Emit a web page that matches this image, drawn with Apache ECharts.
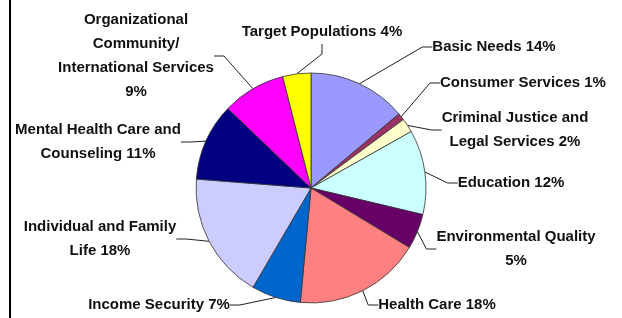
<!DOCTYPE html>
<html>
<head>
<meta charset="utf-8">
<script src="https://cdn.jsdelivr.net/npm/echarts@6/dist/echarts.min.js"></script>
<style>
html,body{margin:0;padding:0;background:#fff;}
#main{width:622px;height:318px;}
</style>
</head>
<body>
<div id="main"></div>
<script>
var categories = [
  'Basic Needs',
  'Consumer Services',
  'Criminal Justice and\nLegal Services',
  'Education',
  'Environmental Quality',
  'Health Care',
  'Income Security',
  'Individual and Family\nLife',
  'Mental Health Care and\nCounseling',
  'Organizational\nCommunity/\nInternational Services',
  'Target Populations'
];
var values = [14, 1, 2, 12, 5, 18, 7, 18, 11, 9, 4];
var valueOnNewLine = [false, false, false, false, true, false, false, false, false, true, false];
var colors = ['#9999FF', '#993366', '#FFFFCC', '#CCFFFF', '#660066', '#FF8080',
              '#0066CC', '#CCCCFF', '#000080', '#FF00FF', '#FFFF00'];
// label centre positions (pixels)
var labelPos = [
  [494, 47], [523, 83], [515, 130], [511, 183], [516, 249], [437, 305],
  [159, 305], [100, 239], [98, 142], [136, 56], [322, 32]
];

var chart = echarts.init(document.getElementById('main'), null, {renderer: 'canvas'});
chart.setOption({
  animation: false,
  backgroundColor: '#ffffff',
  graphic: [{
    type: 'rect', shape: {x: 9, y: 0, width: 2, height: 318},
    style: {fill: '#000'}, silent: true
  }],
  series: [{
    type: 'pie',
    center: [311, 188],
    radius: 115,
    startAngle: 90,
    clockwise: true,
    data: categories.map(function (c, i) {
      return {name: c, value: values[i], itemStyle: {color: colors[i]}};
    }),
    itemStyle: {borderColor: '#333', borderWidth: 0.8},
    label: {
      show: true,
      formatter: function (p) {
        return p.name + (valueOnNewLine[p.dataIndex] ? '\n' : ' ') + p.value + '%';
      },
      fontFamily: 'Liberation Sans, Arial, sans-serif',
      fontWeight: 'bold',
      fontSize: 15,
      lineHeight: 24,
      color: '#111',
      align: 'center',
      overflow: 'none'
    },
    labelLine: {show: true, length: 10, length2: 10, lineStyle: {color: '#222', width: 1}},
    labelLayout: function (params) {
      var p = labelPos[params.dataIndex];
      return {x: p[0], y: p[1], align: 'center', verticalAlign: 'middle'};
    }
  }]
});
</script>
</body>
</html>
